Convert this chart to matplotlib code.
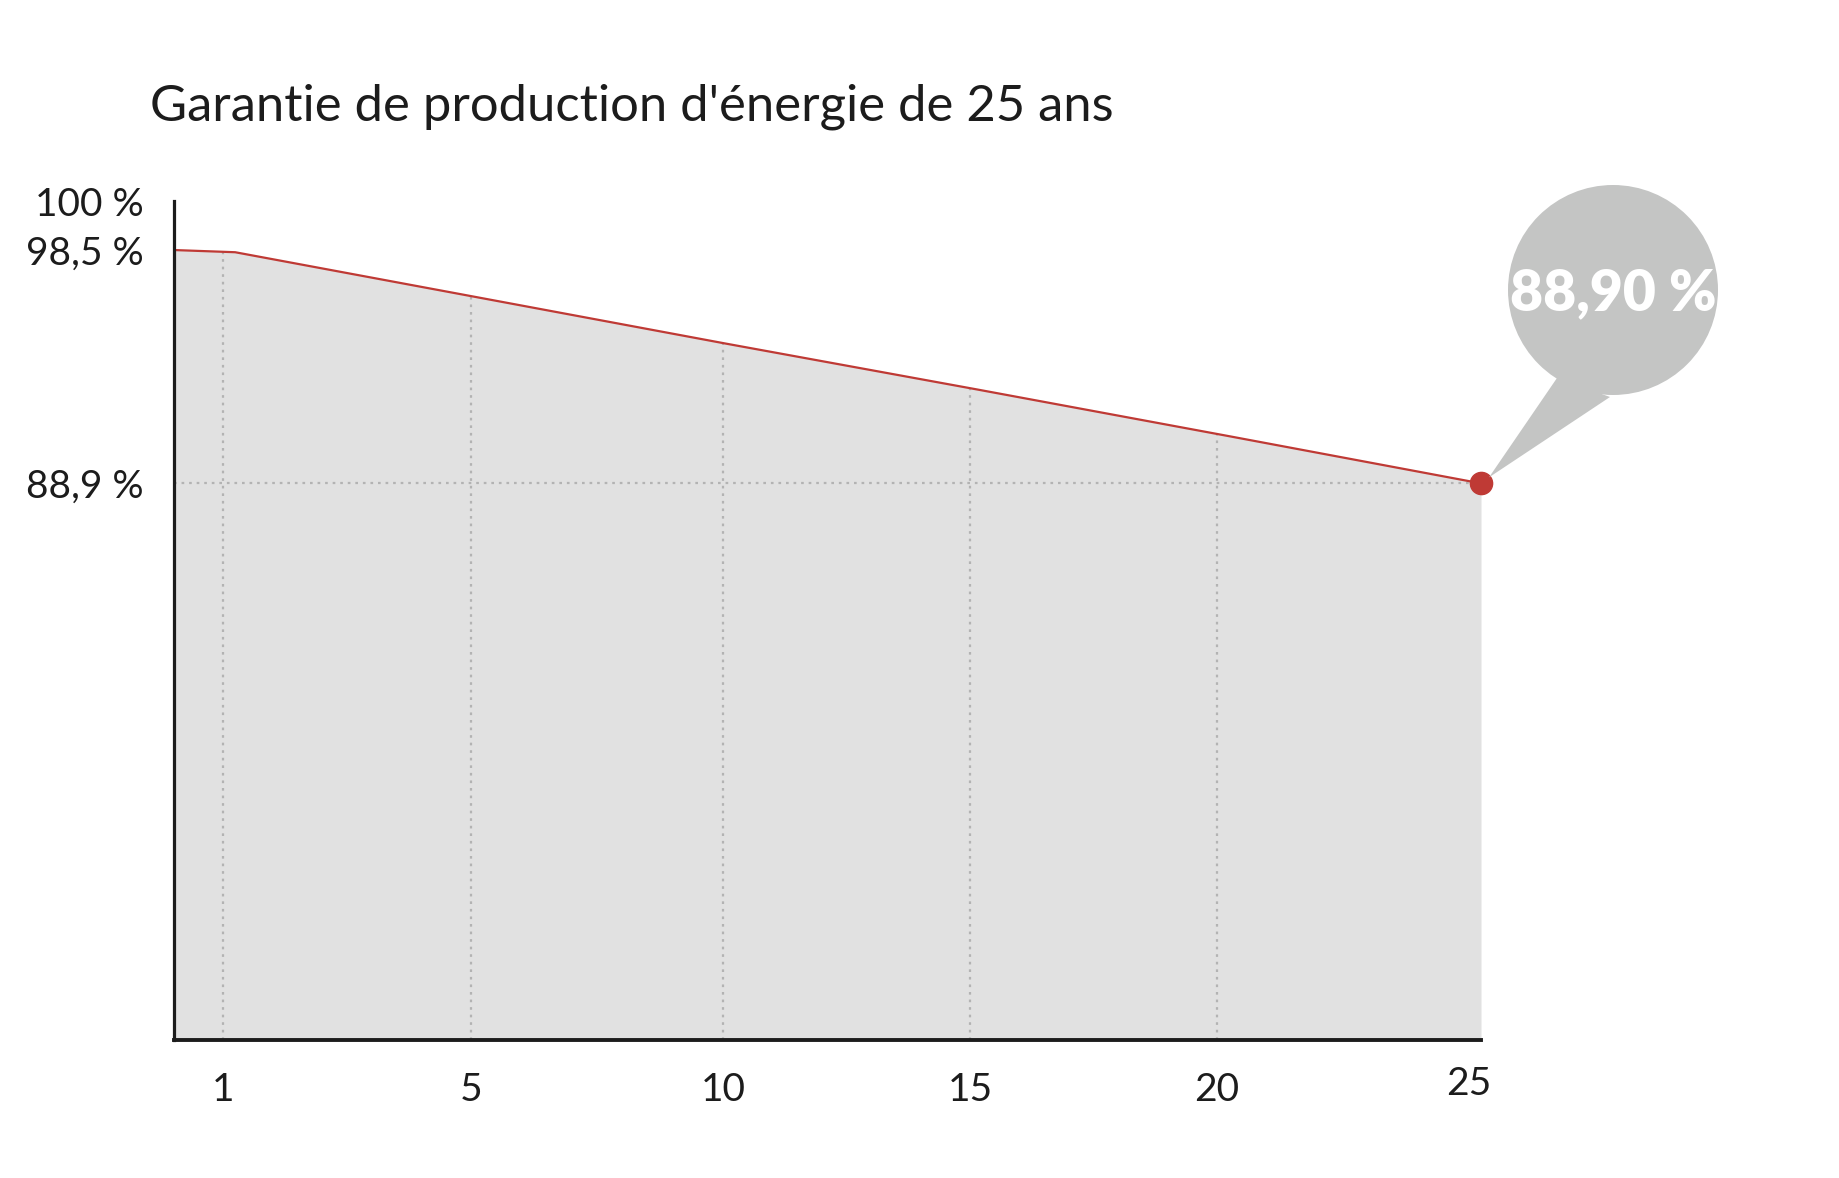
import matplotlib
matplotlib.use("Agg")
import matplotlib.pyplot as plt
from matplotlib.patches import Ellipse, Polygon
from matplotlib.transforms import offset_copy

plt.rcParams["font.family"] = ["Lato", "DejaVu Sans"]

# x positions of the ticks (designer spaced them almost evenly) and their labels
tick_pos = [0, 0.986, 1.988, 2.97, 3.95, 5]
tick_labels = ["1", "5", "10", "15", "20", "25"]

# the guaranteed-output curve
line_x = [-0.193, 0.05, 1, 2, 3, 4, 5]
line_y = [98.5, 98.41, 96.58, 94.65, 92.76, 90.84, 88.9]

y_ticks = [100, 98.5, 88.9]
y_labels = ["100 %", "98,5 %", "88,9 %"]

final_value = 88.9
final_label = "88,90 %"
title = "Garantie de production d'énergie de 25 ans"

RED = "#bf3a35"
FILL = "#e1e1e1"
GRID = "#b3b3b3"
BUBBLE = "#c4c5c4"
INK = "#1c1c1c"

W, H = 1840, 1178
fig = plt.figure(figsize=(W / 100, H / 100), dpi=100)
ax = fig.add_axes([174 / W, 1 - 1040 / H, (1481 - 174) / W, (1040 - 200.7) / H])

ax.set_xlim(line_x[0], 5)
ax.set_ylim(66.0, 100.53)

ax.fill_between(line_x, line_y, 66.0, color=FILL, lw=0, zorder=1)

# dotted guides running up to the curve
for p in tick_pos[:-1]:
    top = None
    for i in range(len(line_x) - 1):
        if line_x[i] <= p <= line_x[i + 1]:
            t = (p - line_x[i]) / (line_x[i + 1] - line_x[i])
            top = line_y[i] + t * (line_y[i + 1] - line_y[i])
    ax.plot([p, p], [66.0, top], color=GRID, lw=1.6, ls=(0, (1.2, 2.2)), zorder=2)
ax.plot([line_x[0], 5], [final_value, final_value], color=GRID, lw=1.6,
        ls=(0, (1.2, 2.2)), zorder=2)

ax.plot(line_x, line_y, color=RED, lw=1.6, zorder=3)

for s in ["top", "right"]:
    ax.spines[s].set_visible(False)
ax.spines["left"].set_linewidth(2.3)
ax.spines["bottom"].set_linewidth(2.8)
ax.spines["left"].set_color(INK)
ax.spines["bottom"].set_color(INK)
ax.spines["left"].set_zorder(5)
ax.spines["bottom"].set_zorder(5)

ax.set_xticks(tick_pos)
ax.set_xticklabels(tick_labels)
ax.set_yticks(y_ticks)
ax.set_yticklabels(y_labels)
ax.tick_params(axis="both", length=0, labelsize=28, labelcolor=INK)
ax.tick_params(axis="x", pad=23)
ax.tick_params(axis="y", pad=22)

# nudge a couple of labels to where the designer put them
ax.get_yticklabels()[0].set_transform(offset_copy(ax.get_yticklabels()[0].get_transform(),
                                                  fig=fig, y=9, units="points"))
ax.get_xticklabels()[-1].set_transform(offset_copy(ax.get_xticklabels()[-1].get_transform(),
                                                   fig=fig, x=-9, y=4, units="points"))

fig.text(150 / W, 1 - 120 / H, title, fontsize=36.5, color=INK, va="baseline", ha="left")

# speech bubble pointing at the last value
fig.canvas.draw()
tip = ax.transData.transform((5, final_value))
cx, cy = 1613, H - 290
r = 105
fig.add_artist(Ellipse((cx / W, cy / H), 2 * r / W, 2 * r / H, color=BUBBLE, lw=0, zorder=6))
tail = [(tip[0] + 8, tip[1] + 6), (1557, H - 378), (1610, H - 397)]
fig.add_artist(Polygon([(x / W, y / H) for x, y in tail], closed=True, color=BUBBLE, lw=0, zorder=6))
ax.plot([5], [final_value], "o", color=RED, ms=16, zorder=10, clip_on=False)
fig.text(cx / W, (H - 293) / H, final_label, fontsize=41, fontweight="heavy", color="white",
         ha="center", va="center", zorder=7)

fig.savefig("out.png", dpi=100)
